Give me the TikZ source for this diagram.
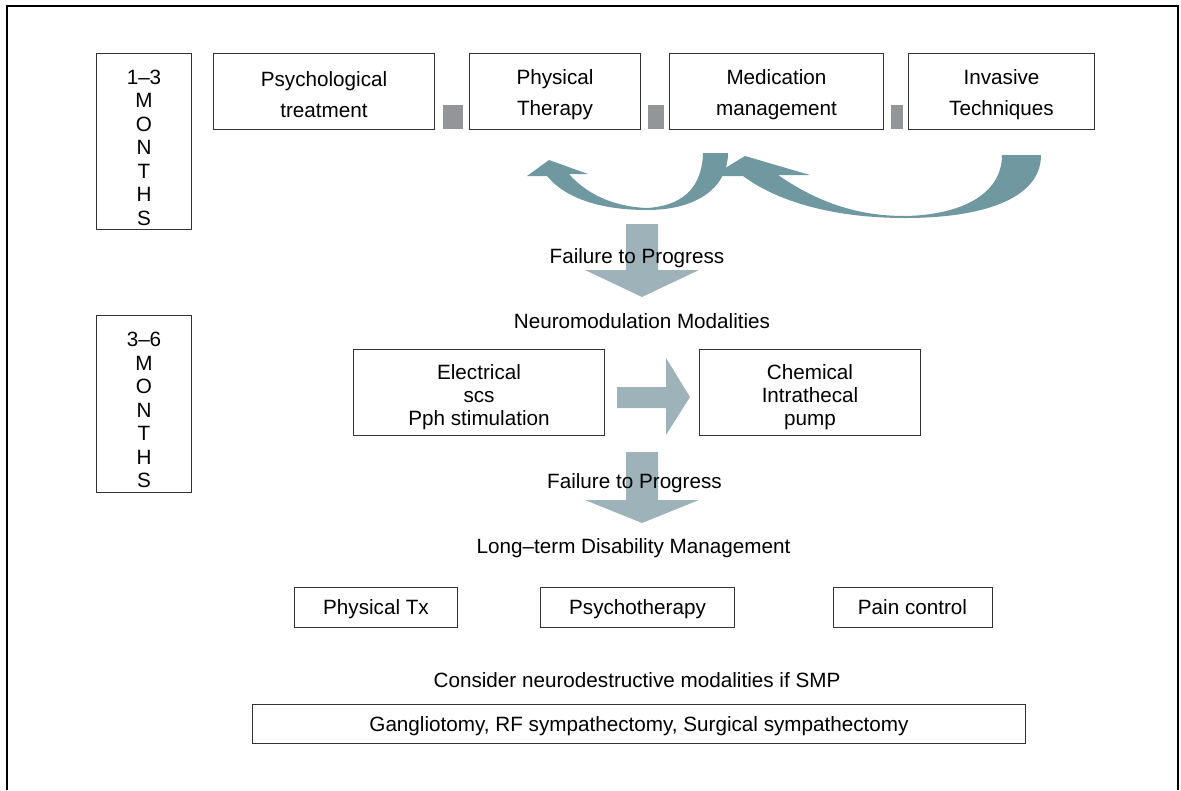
\documentclass[tikz,border=0pt]{standalone}
\usepackage{fontspec}
\setmainfont{Liberation Sans}
\definecolor{curvecol}{HTML}{6F98A0}
\definecolor{blockcol}{HTML}{9DB3B9}
\definecolor{sqcol}{HTML}{939598}
\newcommand{\lift}[1]{\rule{0pt}{#1}}

\begin{document}
\begin{tikzpicture}[x=0.025cm,y=-0.025cm,box/.style={draw=black!80,line width=0.7pt,rectangle,inner sep=0pt,align=center}]
\tikzstyle{month box} = [box,minimum width=2.35cm,minimum height=4.42cm,font=\fontsize{14.7}{16.7}\selectfont]
\tikzstyle{top box} = [box,minimum height=1.9cm,font=\fontsize{14.7}{22}\selectfont]
\tikzstyle{mid box} = [box,minimum height=2.15cm,font=\fontsize{14.7}{16.3}\selectfont]
\tikzstyle{low box} = [box,minimum height=1cm,text depth=0pt,font=\fontsize{14.7}{17}\selectfont]
\tikzstyle{label text} = [inner sep=0pt,font=\fontsize{14.7}{17}\selectfont]

\useasboundingbox (0,0) rectangle (1181,790);
\draw[line width=0.9pt] (7,790) -- (7,6) -- (1178,6) -- (1178,790);

\node[month box] (first) at (144,141.5) {\lift{19pt}1--3\\M\\O\\N\\T\\H\\S};
\node[month box] (second) at (144,404) {\lift{19pt}3--6\\M\\O\\N\\T\\H\\S};

\node[top box,minimum width=5.5cm] (psych) at (324,91) {\lift{16.3pt}Psychological\\treatment};
\node[top box,minimum width=4.25cm] (phys) at (555,91) {\lift{16.3pt}Physical\\Therapy};
\node[top box,minimum width=5.325cm] (med) at (776.5,91) {\lift{16.3pt}Medication\\management};
\node[top box,minimum width=4.625cm] (inv) at (1001.5,91) {\lift{16.3pt}Invasive\\Techniques};

\fill[sqcol] (443,105) rectangle (463,129);
\fill[sqcol] (648,105) rectangle (664,129);
\fill[sqcol] (891,105) rectangle (903,129);

% curved arrows
\fill[curvecol] (703,153) -- (728,153) .. controls (728,185) and (700,210) .. (647,210)
  .. controls (600,210) and (565,198) .. (547,176) -- (527,176) -- (549,160) -- (588,174) -- (569,174)
  .. controls (590,198) and (620,207) .. (647,208) .. controls (680,206) and (702,190) .. (703,153) -- cycle;
\fill[curvecol] (1002,155) -- (1041,155) .. controls (1041,200) and (980,218) .. (905,218)
  .. controls (830,218) and (775,200) .. (743,176) -- (712,176) -- (745,156) -- (810,175) -- (778,175)
  .. controls (820,204) and (860,216) .. (905,216) .. controls (960,215) and (1002,195) .. (1002,155) -- cycle;

% block arrows
\fill[blockcol] (626,224) -- (658,224) -- (658,270) -- (699,270) -- (642,297) -- (585,270) -- (626,270) -- cycle;
\fill[blockcol] (617,387) -- (666,387) -- (666,358) -- (690,397) -- (666,435) -- (666,408) -- (617,408) -- cycle;
\fill[blockcol] (626,452) -- (658,452) -- (658,500) -- (699,500) -- (642,523) -- (585,500) -- (626,500) -- cycle;

\node[label text] (fail1) at (637,258) {Failure to Progress};
\node[label text] (neuro) at (642,321) {Neuromodulation Modalities};

\node[mid box,minimum width=6.25cm] (elec) at (479,392) {\lift{18.5pt}Electrical\\scs\\Pph stimulation};
\node[mid box,minimum width=5.5cm] (chem) at (810,392) {\lift{18.5pt}Chemical\\Intrathecal\\pump};

\node[label text] (fail2) at (634.5,483) {Failure to Progress};
\node[label text] (longterm) at (633.5,548) {Long--term Disability Management};

\node[low box,minimum width=4.05cm] (ptx) at (376,607) {Physical Tx};
\node[low box,minimum width=4.825cm] (psyt) at (637.5,607) {Psychotherapy};
\node[low box,minimum width=3.975cm] (pain) at (912.5,607) {Pain control};

\node[label text] (consider) at (637,680) {Consider neurodestructive modalities if SMP};
\node[low box,minimum width=19.3cm,minimum height=0.975cm] (gang) at (639,723.5) {Gangliotomy, RF sympathectomy, Surgical sympathectomy};

\end{tikzpicture}
\end{document}
